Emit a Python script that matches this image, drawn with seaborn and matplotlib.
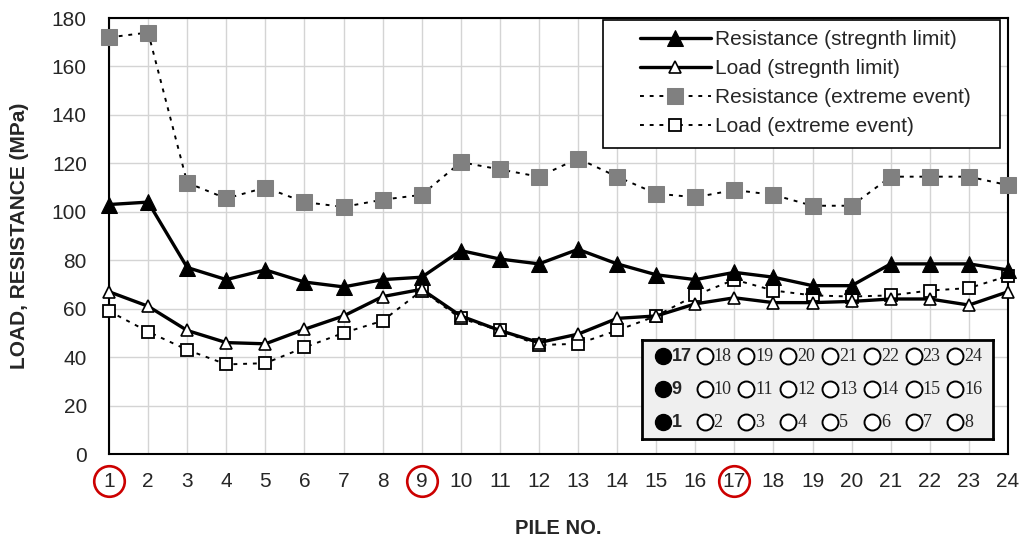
import matplotlib
matplotlib.use("Agg")
import matplotlib.pyplot as plt
import matplotlib.transforms as mtransforms
from matplotlib.patches import Rectangle
import seaborn as sns
import pandas as pd

piles = list(range(1, 25))
res_strength = [103, 104, 77, 72, 76, 71, 69, 72, 73, 84, 80.5, 78.5,
                84.5, 78.5, 74, 72, 75, 73, 69.5, 69.5, 78.5, 78.5, 78.5, 76]
load_strength = [67, 61, 51, 46, 45.5, 51.5, 57, 65, 68, 57, 51, 46,
                 49.5, 56, 57, 62, 64.5, 62.5, 62.5, 63, 64, 64, 61.5, 67]
res_extreme = [172, 174, 112, 105.5, 110, 104, 102, 105, 107, 120.5, 117.5, 114.5,
               122, 114.5, 107.5, 106, 109, 107, 102.5, 102.5, 114.5, 114.5, 114.5, 111]
load_extreme = [59, 50.5, 43, 37, 37.5, 44, 50, 55, 67.5, 56, 51, 45,
                45.5, 51, 57, 65.5, 72, 67.5, 65.5, 65, 65.5, 67.5, 68.5, 73.5]
marked_piles = [1, 9, 17]

df = pd.DataFrame({"pile": piles, "rs": res_strength, "ls": load_strength,
                   "re": res_extreme, "le": load_extreme})

sns.set_style("white")
plt.rcParams["font.family"] = ["Liberation Sans", "DejaVu Sans"]

fig = plt.figure(figsize=(10.22, 5.38), dpi=100)
ax = fig.add_axes([0.1067, 0.1561, 0.8796, 0.8104])

dots = (0, (2, 3))
sns.lineplot(data=df, x="pile", y="re", ax=ax, color="black", lw=1.4, linestyle=dots,
             marker="s", markersize=11, mfc="#808080", mec="#808080",
             label="Resistance (extreme event)", zorder=3, clip_on=False)
sns.lineplot(data=df, x="pile", y="le", ax=ax, color="black", lw=1.4, linestyle=dots,
             marker="s", markersize=8, mfc="white", mec="black", mew=1.3,
             label="Load (extreme event)", zorder=3, clip_on=False)
sns.lineplot(data=df, x="pile", y="rs", ax=ax, color="black", lw=2.4,
             marker="^", markersize=11, mfc="black", mec="black",
             label="Resistance (stregnth limit)", zorder=4, clip_on=False)
sns.lineplot(data=df, x="pile", y="ls", ax=ax, color="black", lw=2.4,
             marker="^", markersize=8, mfc="white", mec="black", mew=1.2,
             label="Load (stregnth limit)", zorder=4, clip_on=False)

ax.set_xlim(1, 24)
ax.set_ylim(0, 180)
ax.set_xticks(piles)
ax.set_yticks(range(0, 181, 20))
ax.grid(True, color="#d4d4d4", lw=1)
for s in ax.spines.values():
    s.set_color("black")
    s.set_linewidth(1.5)
ax.tick_params(axis="both", length=0, labelsize=15)
ax.tick_params(axis="x", pad=13)
ax.tick_params(axis="y", pad=16)

# red rings round the marked pile numbers
trans = mtransforms.blended_transform_factory(ax.transData, ax.transAxes)
ax.plot(marked_piles, [-0.0625] * len(marked_piles), "o", transform=trans, ms=22,
        mfc="none", mec="#cc0000", mew=1.9, clip_on=False)

ax.set_xlabel("PILE NO.", fontsize=14.5, fontweight="bold", labelpad=20)
ax.set_ylabel("LOAD, RESISTANCE (MPa)", fontsize=15, fontweight="bold", labelpad=16)

# legend box
ax.add_patch(Rectangle((0.5495, 0.7018), 0.4415, 0.2936, transform=ax.transAxes,
                       fc="white", ec="black", lw=1.2, zorder=5))
h, l = ax.get_legend_handles_labels()
order = [2, 3, 0, 1]
leg = ax.legend([h[i] for i in order], [l[i] for i in order], loc="upper left",
                bbox_to_anchor=(0.5907, 0.972), borderaxespad=0, borderpad=0,
                fontsize=15, frameon=False, handlelength=3.4, handletextpad=0.2,
                labelspacing=0.48)
leg.set_zorder(6)

# pile layout inset
ins = fig.add_axes([0.628, 0.184, 0.3435, 0.184])
ins.set_xlim(0, 351)
ins.set_ylim(0, 99)
ins.set_facecolor("#efefef")
ins.set_xticks([])
ins.set_yticks([])
for s in ins.spines.values():
    s.set_color("black")
    s.set_linewidth(2)
rows = [[17, 18, 19, 20, 21, 22, 23, 24], [9, 10, 11, 12, 13, 14, 15, 16], [1, 2, 3, 4, 5, 6, 7, 8]]
row_y = [83, 50, 17]
for yy, row in zip(row_y, rows):
    for j, num in enumerate(row):
        cx = 21 + j * 41.8
        if j == 0:
            ins.plot(cx, yy, "o", ms=11.5, mfc="black", mec="black")
            ins.text(cx + 9, yy, str(num), fontsize=13, fontweight="bold", va="center")
        else:
            ins.plot(cx, yy, "o", ms=11.5, mfc="white", mec="black", mew=1.4)
            ins.text(cx + 9, yy, str(num), fontsize=13, va="center",
                     family=["Liberation Serif", "DejaVu Serif"])

fig.savefig("out.png", dpi=100)
